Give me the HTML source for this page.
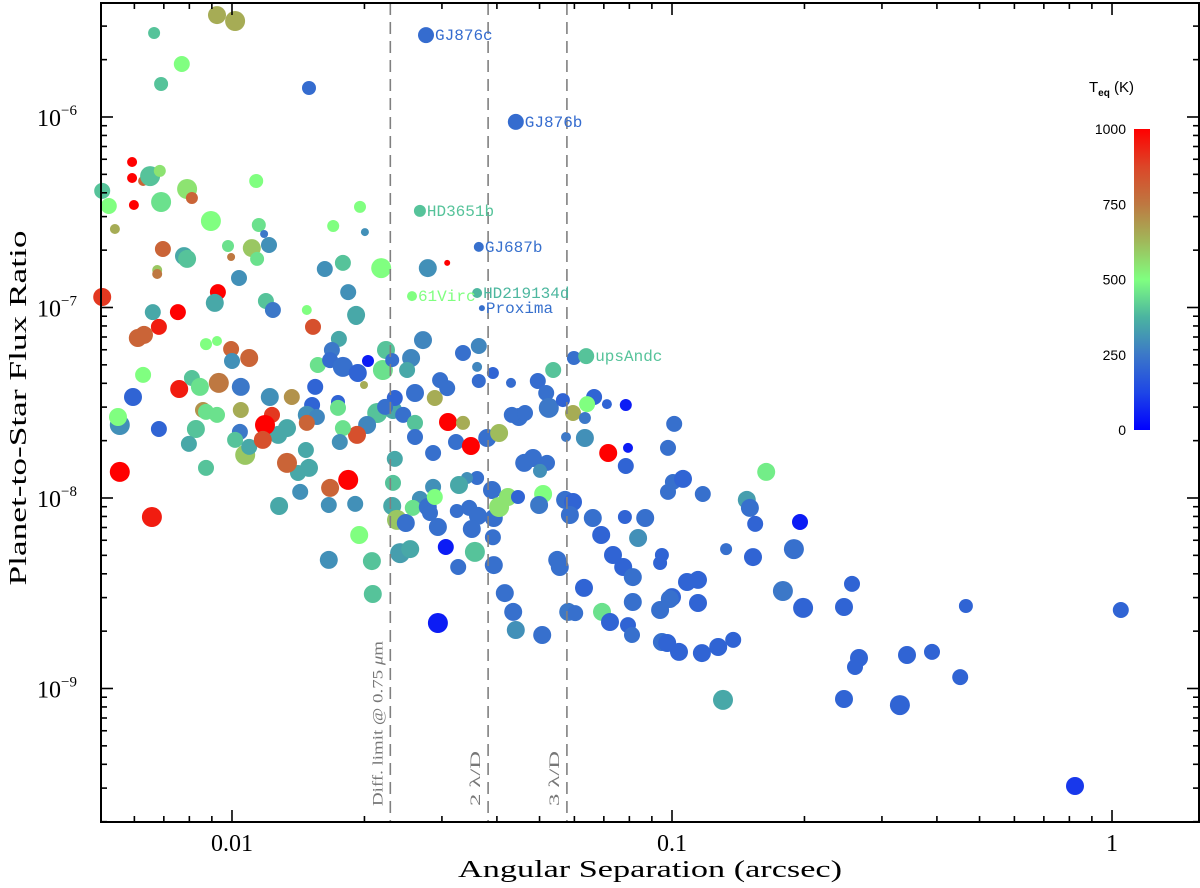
<!DOCTYPE html>
<html><head><meta charset="utf-8">
<style>
html,body{margin:0;padding:0;background:#fff;}
svg{display:block;}
text{font-family:"Liberation Serif",serif;}
</style></head>
<body>
<svg id="chart" width="1200" height="888" viewBox="0 0 1200 888" xmlns="http://www.w3.org/2000/svg">
<defs>
<linearGradient id="cbar" x1="0" y1="1" x2="0" y2="0">
<stop offset="0" stop-color="rgb(0,0,255)"/>
<stop offset="0.125" stop-color="rgb(30,70,230)"/>
<stop offset="0.25" stop-color="rgb(60,120,200)"/>
<stop offset="0.375" stop-color="rgb(75,180,160)"/>
<stop offset="0.5" stop-color="rgb(128,255,128)"/>
<stop offset="0.625" stop-color="rgb(160,185,90)"/>
<stop offset="0.75" stop-color="rgb(190,120,65)"/>
<stop offset="0.875" stop-color="rgb(220,70,40)"/>
<stop offset="1" stop-color="rgb(255,0,0)"/>
</linearGradient>
</defs>
<g id="marks"></g>
<g id="guides"></g>
<g id="axes"></g>
<g id="labels"></g>
<g id="cb"></g>
</svg>
<script>
const logSep = [
-2.034,-1.993,-2.177,-2.114,-2.161,-1.825,-1.559,-1.355,-2.227,-2.227,
-2.202,-2.186,-2.164,-2.295,-2.280,-2.223,-2.102,-2.091,-2.161,-2.266,
-2.048,-1.945,-1.939,-1.927,-2.157,-2.170,-2.170,-2.109,-2.102,-2.009,
-2.002,-1.955,-1.943,-1.916,-2.032,-1.984,-2.039,-2.295,-2.180,-2.123,
-1.923,-1.907,-1.830,-1.709,-1.770,-1.698,-1.789,-1.748,-1.661,-1.736,
-1.718,-1.816,-1.573,-1.555,-1.511,-1.439,-1.591,-1.443,-1.432,-1.223,
-1.195,
-2.166,-2.214,-2.200,-2.059,-2.034,-2.002,-1.961,-2.000,-2.202,-2.120,
-2.091,-2.073,-2.030,-1.980,-2.225,-2.066,-2.059,-2.034,-1.980,-2.255,
-2.259,-2.166,-2.082,-2.098,-1.982,-1.993,-1.970,-1.961,-2.255,-2.059,
-2.182,-1.914,-1.864,-1.811,-1.818,-1.759,-1.759,-1.830,-1.807,-1.830,
-1.670,-1.634,-1.693,-1.716,-1.748,-1.755,-1.875,-1.895,-1.909,-1.925,
-1.930,-1.825,-1.850,-1.875,-1.832,-1.845,-1.780,-1.720,-1.777,-1.736,
-1.893,-1.711,-1.780,-1.682,-1.680,-1.805,-1.757,-1.773,-1.777,-1.748,
-1.714,-1.691,-1.700,-1.650,-1.657,-1.636,-1.718,
-1.593,-1.602,-1.566,-1.584,-1.630,-1.652,-1.611,-1.584,-1.584,-1.539,
-1.527,-1.511,-1.509,-1.475,-1.491,-1.457,-1.420,-1.393,-1.543,-1.630,
-1.634,-1.636,-1.625,-1.605,-1.618,-1.595,-1.573,-1.589,-1.555,-1.550,
-1.532,-1.543,-1.539,-1.489,-1.461,-1.443,-1.466,-1.484,-1.441,-1.455,
-1.409,-1.405,-1.393,-1.373,-1.350,-1.407,-1.336,-1.316,-1.284,-1.300,
-1.348,-1.364,-1.334,-1.293,-1.302,-1.243,-1.225,-1.232,-1.180,-1.161,
-1.107,-1.061,-1.077,-1.134,-1.111,-1.089,-1.023,-1.027,-1.000,-1.027,
-1.089,-1.159,-1.141,-1.100,-1.091,-1.023,-1.200,-1.236,-1.220,-1.295,
-1.355,-1.361,-1.380,-1.532,-1.486,-1.514,-1.448,-1.261,-1.255,-1.405,
-0.998,-1.009,
-1.475,-1.439,-1.443,-1.439,-1.407,-1.366,-1.305,-1.286,-1.280,-1.270,
-1.248,-1.177,-1.148,-1.105,-1.193,-1.225,-1.198,-1.241,-1.198,-1.145,
-1.100,-1.105,-1.009,-0.995,
-0.930,-0.975,-0.786,-0.830,-0.823,-0.811,-0.709,-0.877,-0.816,-0.723,
-0.966,-0.941,-1.005,-0.941,-0.591,-0.609,-0.748,-0.702,-1.011,-0.984,
-0.932,-0.895,-0.861,-0.575,-0.584,-0.466,-0.409,-0.345,-0.884,-0.609,
-0.482,-0.332,0.020,-0.084
];
const logFlux = [
-5.465,-5.496,-5.559,-5.722,-5.827,-5.848,-5.570,-6.026,-6.236,-6.320,
-6.336,-6.310,-6.283,-6.388,-6.467,-6.462,-6.378,-6.425,-6.446,-6.588,
-6.546,-6.336,-6.567,-6.614,-6.693,-6.803,-6.824,-6.730,-6.745,-6.677,
-6.735,-6.688,-6.745,-6.672,-6.919,-6.845,-6.976,-6.945,-7.024,-7.024,
-6.966,-7.013,-7.013,-6.472,-6.572,-6.604,-6.798,-6.766,-6.793,-6.919,
-7.039,-7.102,-6.493,-6.793,-6.766,-6.682,-6.940,-6.924,-7.003,-7.265,
-7.255,
-7.102,-7.160,-7.144,-7.192,-7.176,-7.218,-7.265,-7.281,-7.354,-7.428,
-7.370,-7.417,-7.396,-7.417,-7.470,-7.538,-7.548,-7.564,-7.538,-7.617,
-7.575,-7.638,-7.638,-7.716,-7.653,-7.695,-7.774,-7.732,-7.863,-7.842,
-8.100,-7.470,-7.470,-7.417,-7.512,-7.496,-7.527,-7.564,-7.575,-7.606,
-7.554,-7.538,-7.617,-7.669,-7.633,-7.706,-7.633,-7.669,-7.564,-7.617,
-7.695,-7.842,-7.869,-7.816,-7.748,-7.968,-8.037,-8.031,-7.947,-7.905,
-8.042,-8.194,-8.325,-8.331,-8.504,-7.302,-7.165,-7.223,-7.276,-7.312,
-7.344,-7.281,-7.407,-7.223,-7.328,-7.276,-7.050,
-7.265,-7.328,-7.171,-7.449,-7.475,-7.522,-7.564,-7.606,-7.680,-7.475,
-7.381,-7.423,-7.601,-7.606,-7.706,-7.727,-7.685,-7.659,-7.764,-7.795,
-7.921,-8.042,-8.115,-8.131,-8.289,-8.268,-8.005,-8.052,-8.047,-8.079,
-8.152,-7.942,-7.995,-8.068,-8.052,-7.895,-7.895,-7.932,-8.094,-8.163,
-7.958,-8.105,-8.047,-7.995,-7.995,-8.206,-7.816,-7.790,-7.816,-7.858,
-7.575,-7.564,-7.554,-7.979,-8.037,-8.010,-8.021,-8.089,-8.105,-8.194,
-8.100,-8.105,-8.210,-8.299,-8.362,-8.415,-8.299,-8.341,-8.520,-8.588,
-8.546,-8.598,-8.651,-8.667,-8.719,-8.756,-8.472,-8.598,-8.604,-8.719,
-8.693,-8.598,-8.499,-8.656,-8.362,-8.257,-8.283,-8.325,-8.362,-8.352,
-7.916,-7.968,
-7.239,-7.202,-7.312,-7.386,-7.344,-7.396,-7.386,-7.449,-7.527,-7.328,
-7.486,-7.470,-7.507,-7.512,-7.507,-7.554,-7.580,-7.680,-7.685,-7.764,
-7.737,-7.832,-7.737,-7.611,
-7.979,-7.900,-7.863,-8.010,-8.052,-8.136,-8.126,-8.268,-8.310,-8.268,
-8.441,-8.430,-8.530,-8.551,-8.451,-8.572,-8.488,-8.577,-8.761,-8.808,
-8.814,-8.782,-8.745,-8.840,-8.887,-8.824,-8.808,-8.940,-9.060,-9.055,
-9.087,-8.567,-8.588,-9.512
];
const teq = [
650,650,400,500,400,220,220,220,1000,1000,
800,400,550,400,500,1000,550,800,450,650,
500,500,450,250,800,600,750,350,400,450,
750,600,450,300,1000,300,350,900,350,1000,
400,250,500,500,500,300,300,400,500,300,
350,850,400,300,1000,230,500,380,230,230,
400,
950,800,800,500,500,800,800,300,500,950,
400,450,750,250,200,700,450,450,650,300,
500,200,400,350,250,400,600,350,1000,400,
950,300,700,200,200,200,450,300,280,800,
400,350,280,850,450,300,350,350,900,1000,
850,350,350,800,350,300,300,300,800,1000,
350,500,300,400,400,450,350,250,220,230,
200,50,650,400,450,230,350,
280,350,280,230,200,230,230,400,230,650,
230,230,1000,650,230,1000,230,620,230,350,
400,350,600,230,330,350,300,450,230,230,
230,300,500,230,230,230,300,350,230,230,
230,230,550,550,200,230,230,230,230,300,
230,230,230,500,250,230,200,230,230,200,
200,230,300,200,200,230,200,200,200,230,
230,450,200,200,230,230,200,250,230,230,
300,230,230,50,230,50,400,230,230,230,
230,230,
230,280,280,220,200,220,220,230,250,400,
200,200,200,50,500,650,250,250,300,1000,
50,200,230,230,
230,200,470,330,230,200,50,230,200,230,
200,200,230,200,200,200,250,200,200,200,
200,200,200,200,200,200,200,200,350,200,
200,200,200,100
];
const radius = [
9,10,6,8,7,7,8,8,5,5,
5,10,6,8,8,5,10,6,10,5,
10,7,7,4,8,5,5,9,9,6,
4,9,7,8,8,8,9,9,8,8,
8,8,5,6,6,4,8,8,10,8,
9,8,6,9,3,5,5,5,3,7,
8,
8,9,9,6,5,8,9,8,8,9,
8,9,10,9,9,8,8,8,8,10,
9,8,9,8,8,8,10,8,10,8,
10,9,8,8,8,7,8,9,8,8,
10,9,9,9,8,8,9,9,8,10,
9,9,8,10,8,8,8,8,9,10,
9,9,9,9,9,8,8,8,8,10,
9,6,4,9,10,7,8,
9,8,9,9,8,8,8,8,8,8,
8,8,9,7,8,9,9,9,8,8,
8,9,10,9,10,9,8,8,9,8,
9,8,8,7,8,7,6,9,9,9,
9,9,10,9,7,8,9,9,8,7,
9,8,8,9,9,9,9,9,9,9,
7,9,9,9,9,9,7,7,9,9,
9,9,9,8,8,9,9,9,8,9,
9,9,9,10,8,8,10,9,9,9,
8,8,
8,8,5,7,6,5,8,8,10,8,
7,8,5,6,8,8,6,5,9,9,
5,8,8,8,
8,9,9,9,9,8,8,6,9,10,
9,9,9,9,8,9,10,10,9,9,
9,9,8,9,8,9,8,8,10,9,
10,7,8,9
];
const labelNames = ["GJ876c","GJ876b","HD3651b","GJ687b","61Virc","HD219134d","Proxima","upsAndc"];
const labelIndex = [6,7,52,55,56,57,58,60];
const limitSep = [0.0229, 0.0382, 0.0577];
const limitNames = ["Diff. limit @ 0.75 ", "2 \u03bb/D", "3 \u03bb/D"];
const limitLens = [165, 55, 55];
const xMajorTicks = [0.01, 0.1, 1];
const xMajorLabels = ["0.01", "0.1", "1"];
const yMajorExp = [-6, -7, -8, -9];
const cbTicks = [0, 250, 500, 750, 1000];

const NS = "http://www.w3.org/2000/svg";
const X0 = 101, X1 = 1199, Y0 = 3, Y1 = 822;
const XMIN = -2.2977, XMAX = 0.1977, YMAX = -5.4016, YMIN = -9.7008;
const xs = v => X0 + (v - XMIN) / (XMAX - XMIN) * (X1 - X0);
const ys = v => Y0 + (YMAX - v) / (YMAX - YMIN) * (Y1 - Y0);
function mk(tag, attrs, parent) {
  const e = document.createElementNS(NS, tag);
  for (const k in attrs) e.setAttribute(k, attrs[k]);
  parent.appendChild(e);
  return e;
}
const stops = [[0,[0,0,255]],[125,[30,70,230]],[250,[60,120,200]],[375,[75,180,160]],[500,[128,255,128]],[625,[160,185,90]],[750,[190,120,65]],[875,[220,70,40]],[1000,[255,0,0]]];
function tcol(t) {
  t = Math.max(0, Math.min(1000, t));
  for (let i = 0; i < stops.length - 1; i++) {
    const a = stops[i], b = stops[i + 1];
    if (t <= b[0]) {
      const f = (t - a[0]) / (b[0] - a[0]);
      const c = a[1].map((v, j) => Math.round(v + (b[1][j] - v) * f));
      return "rgb(" + c.join(",") + ")";
    }
  }
  return "rgb(255,0,0)";
}

const gM = document.getElementById("marks");
for (let i = 0; i < logSep.length; i++) {
  const c = mk("circle", {cx: xs(logSep[i]).toFixed(1), cy: ys(logFlux[i]).toFixed(1), r: radius[i], fill: tcol(teq[i])}, gM);
  
  
}

const gG = document.getElementById("guides");
for (let i = 0; i < limitSep.length; i++) {
  const x = xs(Math.log10(limitSep[i]));
  const l = mk("line", {x1: x, x2: x, y1: Y0, y2: Y1, stroke: "#808080", "stroke-width": 1.6, "stroke-dasharray": "12,7"}, gG);
  
  
  const tx = x - 8, ty = 806;
  const t = mk("text", {x: tx, y: ty, transform: "rotate(-90 " + tx + " " + ty + ")", "font-size": 15, fill: "#777", textLength: limitLens[i], lengthAdjust: "spacingAndGlyphs"}, gG);
  
  
  t.textContent = limitNames[i];
  if (i === 0) {
    const mu = mk("tspan", {"font-style": "italic"}, t);
    mu.textContent = "\u03bc";
    const m = mk("tspan", {}, t);
    m.textContent = "m";
  }
}

const gA = document.getElementById("axes");
const frame = mk("rect", {x: X0, y: Y0, width: X1 - X0, height: Y1 - Y0, fill: "none", stroke: "#000", "stroke-width": 2}, gA);


function tickLine(x1, y1, x2, y2) { mk("line", {x1, y1, x2, y2, stroke: "#000", "stroke-width": 1.6}, gA); }
for (let d = -3; d <= 0; d++) {
  for (let m = 1; m <= 9; m++) {
    const lv = d + Math.log10(m);
    if (lv < XMIN || lv > XMAX) continue;
    const x = xs(lv), L = m === 1 ? 12 : 6;
    tickLine(x, Y1, x, Y1 - L);
    tickLine(x, Y0, x, Y0 + L);
  }
}
for (let d = -10; d <= -6; d++) {
  for (let m = 1; m <= 9; m++) {
    const lv = d + Math.log10(m);
    if (lv < YMIN || lv > YMAX) continue;
    const y = ys(lv), L = m === 1 ? 12 : 6;
    tickLine(X0, y, X0 + L, y);
    tickLine(X1, y, X1 - L, y);
  }
}
for (let i = 0; i < xMajorTicks.length; i++) {
  const t = mk("text", {x: xs(Math.log10(xMajorTicks[i])), y: 851, "font-size": 24, "text-anchor": "middle"}, gA);
  
  
  t.textContent = xMajorLabels[i];
}
for (let i = 0; i < yMajorExp.length; i++) {
  const y = ys(yMajorExp[i]);
  const t = mk("text", {x: 37, y: y + 9, "font-size": 24}, gA);
  
  
  t.textContent = "10";
  const s = mk("tspan", {dy: -11, "font-size": 15}, t);
  s.textContent = "\u2212" + Math.abs(yMajorExp[i]);
}
const xt = mk("text", {x: 650, y: 877, "font-size": 24, "text-anchor": "middle", textLength: 384, lengthAdjust: "spacingAndGlyphs"}, gA);


xt.textContent = "Angular Separation (arcsec)";
const yt = mk("text", {x: 0, y: 0, "font-size": 24, "text-anchor": "middle", textLength: 355, lengthAdjust: "spacingAndGlyphs", transform: "translate(26 408) rotate(-90)"}, gA);


yt.textContent = "Planet-to-Star Flux Ratio";

const gL = document.getElementById("labels");
for (let i = 0; i < labelNames.length; i++) {
  const k = labelIndex[i];
  const t = mk("text", {x: xs(logSep[k]) + radius[k] + 1, y: ys(logFlux[k]) + 5, "font-size": 16, fill: tcol(teq[k]), style: "font-family:'Liberation Mono',monospace"}, gL);
  
  
  t.textContent = labelNames[i];
}

const gC = document.getElementById("cb");
const CB_T = 129, CB_B = 430;
const bar = mk("rect", {x: 1134, y: CB_T, width: 16, height: CB_B - CB_T, fill: "url(#cbar)"}, gC);


for (let i = 0; i < cbTicks.length; i++) {
  const y = CB_B - (cbTicks[i] / 1000) * (CB_B - CB_T);
  const t = mk("text", {x: 1126, y: y + 5, "font-size": 14, "text-anchor": "end", style: "font-family:'Liberation Sans',sans-serif"}, gC);
  
  
  t.textContent = cbTicks[i];
}
const ct = mk("text", {x: 1089, y: 92, "font-size": 15, style: "font-family:'Liberation Sans',sans-serif"}, gC);


ct.textContent = "T";
const sub = mk("tspan", {dy: 4, "font-size": 10, "font-weight": "bold"}, ct);
sub.textContent = "eq";
const rest = mk("tspan", {dy: -4}, ct);
rest.textContent = " (K)";
</script>
</body></html>
